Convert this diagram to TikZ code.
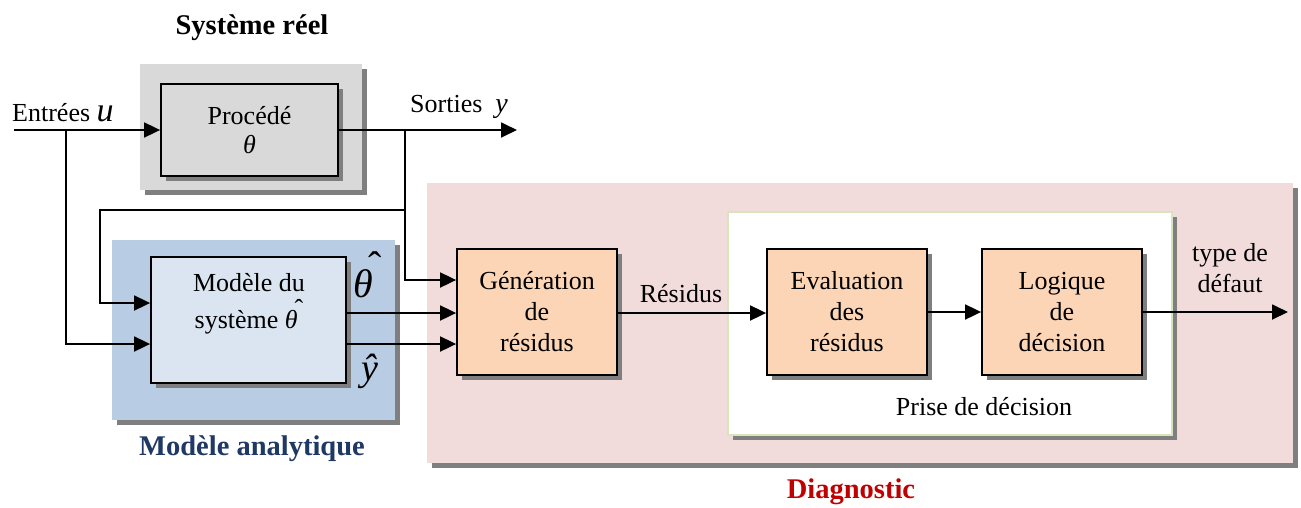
\documentclass[tikz,border=0pt]{standalone}
\usepackage{fontspec}
\setmainfont{Liberation Serif}
\usetikzlibrary{arrows.meta,shadows,calc}
\definecolor{grayfill}{HTML}{D9D9D9}
\definecolor{shadowc}{HTML}{7F7F7F}
\definecolor{bluefill}{HTML}{B8CCE4}
\definecolor{lightblue}{HTML}{DBE5F1}
\definecolor{pinkfill}{HTML}{F2DCDB}
\definecolor{peach}{HTML}{FBD5B5}
\definecolor{greenborder}{HTML}{D7E4BD}
\definecolor{darkblue}{HTML}{1F3864}
\definecolor{darkred}{HTML}{C00000}
\newcommand{\thhat}{\textit{θ}\kern-0.12em\raisebox{0.45em}{ˆ}}
\tikzset{
  shad/.style={drop shadow={shadow xshift=5pt,shadow yshift=-5pt,fill=shadowc,opacity=1}},
  group/.style={rectangle,inner sep=0pt,shad},
  blk/.style={rectangle,draw=black,line width=1.8pt,fill=peach,inner sep=0pt,align=center,shad,font=\fontsize{26}{31}\selectfont},
  conn/.style={line width=1.8pt,-{Triangle[length=16pt,width=15pt]}},
  txt/.style={font=\fontsize{26}{31}\selectfont,inner sep=0pt,align=center},
  ttl/.style={font=\fontsize{28.5}{32}\selectfont\bfseries,inner sep=0pt},
}
\begin{document}
\begin{tikzpicture}[x=1pt,y=-1pt]
\useasboundingbox (0,0) rectangle (1301,507);
% groups
\node[group,fill=grayfill,minimum width=222pt,minimum height=126pt] (sysgrp) at (251,127) {};
\node[group,fill=bluefill,minimum width=283pt,minimum height=180pt] (modgrp) at (253.5,330) {};
\node[group,fill=pinkfill,minimum width=866pt,minimum height=280pt] (diaggrp) at (860,323) {};
\node[group,fill=white,draw=greenborder,line width=1.5pt,minimum width=444pt,minimum height=223pt] (decgrp) at (950,323.5) {};
% titles
\node[ttl] (t1) at (252,28) {Système réel};
\node[ttl,text=darkblue] (t2) at (252,449) {Modèle analytique};
\node[ttl,text=darkred] (t3) at (851,492) {Diagnostic};
\node[txt,anchor=base] (t4) at (984,415) {Prise de décision};
% blocks
\node[blk,fill=grayfill,minimum width=177pt,minimum height=92pt] (proc) at (249.5,130) {Procédé\\[-2pt]\textit{θ}};
\node[blk,fill=lightblue,minimum width=195pt,minimum height=126pt] (model) at (248.5,320) {};
\node[txt] (modeltxt) at (249,304) {Modèle du\\[6pt]système \thhat};
\node[blk,minimum width=160pt,minimum height=126pt] (gen) at (537,312) {Génération\\de\\résidus};
\node[blk,minimum width=160pt,minimum height=126pt] (eval) at (847,312) {Evaluation\\des\\résidus};
\node[blk,minimum width=160pt,minimum height=126pt] (logic) at (1062,312) {Logique\\de\\décision};
% labels
\node[txt,anchor=base west] (lin) at (12,121) {Entrées {\fontsize{34}{34}\selectfont\textit{u}}};
\node[txt,anchor=base west] (lout) at (410,112) {Sorties \ {\fontsize{28}{28}\selectfont\textit{y}}};
\node[txt,anchor=base] (lres) at (681,302) {Résidus};
\node[txt] (ltype) at (1230,268) {type de\\défaut};
\node[inner sep=0pt,font=\fontsize{40}{40}\selectfont,anchor=base west] (lth) at (353,297) {\thhat};
\node[inner sep=0pt,font=\fontsize{38}{38}\selectfont,anchor=base west] (lyh) at (361,380) {\textit{ŷ}};
% connectors
\coordinate (inL) at (14,130);
\coordinate (ju) at (66,130);
\coordinate (jy) at (405,130);
\coordinate (jf) at (405,210);
\coordinate (fb) at (100,210);
\coordinate (yout) at (517,130);
\coordinate (fout) at (1288,312);
\draw[conn] (inL) -- (proc.west);
\draw[conn] (proc.east) -- (yout);
\draw[conn] (ju) |- ($(model.west)+(0,24)$);
\draw[conn] (jf) -- (fb) |- ($(model.west)+(0,-17)$);
\draw[conn] (jy) |- ($(gen.west)+(0,-32)$);
\draw[conn] ($(model.east)+(0,-7)$) -- ($(gen.west)+(0,1)$);
\draw[conn] ($(model.east)+(0,24)$) -- ($(gen.west)+(0,32)$);
\draw[conn] ($(gen.east)+(0,1)$) -- ($(eval.west)+(0,1)$);
\draw[conn] (eval.east) -- (logic.west);
\draw[conn] (logic.east) -- (fout);
\end{tikzpicture}
\end{document}
